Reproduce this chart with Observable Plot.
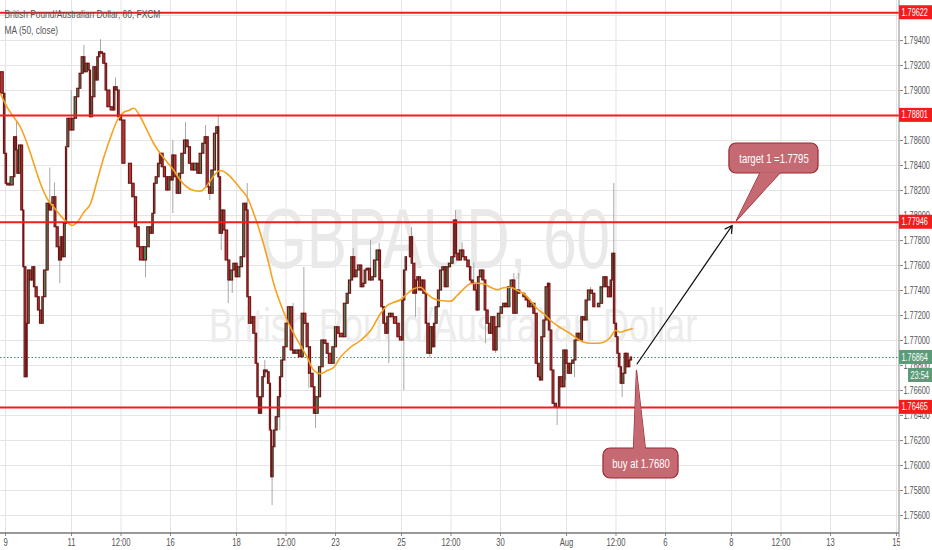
<!DOCTYPE html>
<html><head><meta charset="utf-8">
<script src="https://cdn.jsdelivr.net/npm/d3@7"></script>
<script src="https://cdn.jsdelivr.net/npm/@observablehq/plot@0.6"></script>
<style>
body{margin:0;background:#fff;}
#chart{width:932px;height:550px;overflow:hidden}
</style></head><body><div id="chart"></div>
<script>
// hourly-bar index (0 = 9 Jul 00:00, weekends removed) and closing price
const closeTrace = [[-3.6,1.79146],[-1.2,1.78974],[0,1.78494],[1.2,1.78254],[3.6,1.78240],[6.1,1.78306],[7.3,1.78626],[8.5,1.78520],[9.7,1.78334],[11.4,1.78560],[12.9,1.78040],[13.8,1.77586],[15.3,1.76706],[16.2,1.77134],[17.7,1.77560],[19.4,1.77480],[20.6,1.77586],[21.8,1.77426],[23.5,1.77346],[25,1.77240],[26.7,1.77134],[27.9,1.77346],[29.8,1.77560],[31.5,1.78094],[32.7,1.78040],[34,1.78094],[35.6,1.78146],[37.1,1.77906],[38.8,1.77746],[40,1.77640],[41.2,1.77826],[42.4,1.77666],[43.9,1.77934],[44.9,1.78546],[46.5,1.78774],[48.5,1.78680],[50.2,1.78774],[52.1,1.78946],[53.8,1.79014],[55.3,1.79134],[57,1.79266],[58.2,1.79146],[59.9,1.79214],[61.3,1.79160],[62.3,1.78786],[63.8,1.78946],[65.5,1.79186],[66.7,1.79080],[67.9,1.79266],[69.1,1.79306],[71,1.79294],[72.7,1.79214],[74,1.79000],[76.4,1.78866],[78.8,1.78840],[80,1.79026],[81.7,1.79000],[83.1,1.78786],[84.9,1.78760],[87.3,1.78414],[89.7,1.78414],[92.1,1.78254],[94,1.78146],[95.8,1.77906],[97.7,1.77746],[100.6,1.77640],[103,1.77746],[105,1.77906],[106.7,1.77854],[107.9,1.78014],[109.1,1.78254],[110.8,1.78306],[112.2,1.78414],[113.5,1.78494],[115.1,1.78386],[116.8,1.78306],[118.3,1.78200],[120,1.78306],[121.2,1.78280],[122.4,1.78480],[124.4,1.78306],[126,1.78174],[127.8,1.78334],[129.7,1.78494],[131.4,1.78600],[133.3,1.78546],[135,1.78414],[137,1.78360],[139.4,1.78414],[141.1,1.78334],[143,1.78494],[144.7,1.78574],[146.2,1.78626],[147.9,1.78226],[149.6,1.78174],[151.5,1.78360],[153.2,1.78654],[154.7,1.78706],[155.6,1.78306],[156.9,1.77854],[158.3,1.78040],[160,1.77880],[162,1.77640],[163.6,1.77480],[165.6,1.77560],[167.3,1.77614],[168.9,1.77506],[170.9,1.77586],[172.8,1.77666],[174.5,1.78094],[175.8,1.78040],[176.9,1.77346],[178.7,1.77134],[180.1,1.77186],[181.8,1.77054],[183.1,1.76814],[184.2,1.76546],[185.5,1.76414],[186.7,1.76546],[187.9,1.76706],[189.1,1.76760],[190.8,1.76746],[192.2,1.76654],[193.2,1.76280],[193.9,1.75906],[195.1,1.76146],[196.4,1.76280],[198,1.76386],[199.5,1.76546],[200.5,1.76706],[202,1.76840],[203.6,1.76946],[205.3,1.77134],[207.3,1.77266],[209.2,1.76920],[210.9,1.76894],[213.3,1.76920],[215.3,1.76866],[217,1.77214],[218.9,1.77134],[220.6,1.76946],[222.3,1.76734],[224.2,1.76626],[225.5,1.76414],[227.9,1.76546],[229.6,1.76786],[231.5,1.77000],[233.5,1.76974],[235.1,1.76894],[237.6,1.76814],[239.5,1.76946],[241.2,1.77106],[243.1,1.77054],[246,1.77026],[248,1.77294],[249.7,1.77374],[251.4,1.77480],[252.9,1.77666],[254.5,1.77506],[256.2,1.77560],[258.2,1.77600],[259.6,1.77426],[261.1,1.77454],[262.5,1.77560],[264.2,1.77574],[265.9,1.77480],[267.9,1.77506],[269.8,1.77640],[271.8,1.77720],[273.2,1.77480],[274.7,1.77266],[276.1,1.77134],[277.6,1.77054],[278.8,1.77186],[280.5,1.77214],[282.4,1.77186],[284.9,1.77134],[286.8,1.77026],[288.5,1.77000],[289.7,1.77320],[290.9,1.77560],[292.1,1.77666],[294,1.77666],[295.3,1.77826],[296.5,1.77614],[298.2,1.77374],[299.4,1.77480],[300.6,1.77506],[302.3,1.77400],[303.8,1.77480],[305.5,1.77374],[306.7,1.77134],[308.6,1.76894],[310.3,1.77106],[311.5,1.76946],[312.7,1.77134],[314.4,1.77266],[315.9,1.77400],[317.6,1.77560],[319.3,1.77586],[320.7,1.77426],[322.4,1.77586],[324.1,1.77614],[326,1.77666],[327.3,1.77960],[328.5,1.77694],[330.4,1.77640],[332.1,1.77720],[333.8,1.77666],[335.8,1.77640],[337.7,1.77586],[338.9,1.77480],[340.6,1.77454],[342.5,1.77400],[343.5,1.77240],[344.9,1.77506],[346.7,1.77560],[348.4,1.77480],[349.8,1.77240],[351.5,1.77134],[353.2,1.77054],[354.7,1.77186],[356.4,1.76920],[358,1.77106],[360,1.77214],[361.9,1.77266],[363.6,1.77294],[365.3,1.77266],[367.3,1.77426],[369.2,1.77480],[370.9,1.77214],[372.6,1.77400],[374.5,1.77374],[376.5,1.77374],[378.2,1.77346],[379.9,1.77320],[381.8,1.77266],[383.8,1.77294],[385.5,1.77214],[387.2,1.76814],[388.6,1.76706],[389.6,1.76680],[391.1,1.77026],[392.7,1.77160],[394.4,1.77426],[395.1,1.77454],[396.4,1.77080],[397.8,1.76760],[399.3,1.76494],[401.2,1.76466],[402.4,1.76466],[403.6,1.76706],[405.6,1.76626],[407.3,1.76920],[408.9,1.76814],[410.4,1.76734],[412.1,1.76814],[413.8,1.76840],[415.3,1.77000],[416.9,1.77054],[418.7,1.77000],[420.1,1.77186],[421.8,1.77160],[423.5,1.77320],[425.5,1.77400],[427.4,1.77374],[429.1,1.77266],[430.8,1.77266],[432.7,1.77294],[434.7,1.77426],[436.4,1.77506],[438,1.77426],[440,1.77346],[441.2,1.77480],[442.4,1.77694],[443.6,1.77134],[444.9,1.77026],[446,1.76894],[447.3,1.76786],[448.5,1.76654],[450.2,1.76734],[451.6,1.76894],[453.3,1.76786],[454.5,1.76840],[455.8,1.76864]];

// notable wicks: [bar index, low, high]
const wicks = [[8,1.7852,1.7876],[32.2,1.7804,1.7838],[35.6,1.7815,1.7826],[39.5,1.77456,1.7775],[47.8,1.7868,1.7900],[57,1.7927,1.7936],[69.1,1.7930,1.79406],[80,1.7902,1.7910],[101.8,1.7750,1.7764],[121.7,1.78016,1.7860],[130.9,1.7850,1.78744],[145.5,1.7857,1.7872],[148.6,1.7812,1.7822],[154.7,1.7870,1.7880],[156.9,1.7772,1.7785],[162,1.77296,1.7764],[164.9,1.77376,1.7756],[175.8,1.7804,1.78256],[181.8,1.7700,1.7705],[188.6,1.7670,1.7684],[193.9,1.7568,1.7628],[199.5,1.7628,1.7655],[209.2,1.7689,1.77296],[217,1.7713,1.77584],[220.6,1.76616,1.7695],[225.5,1.76296,1.7655],[252.9,1.7750,1.77736],[265.5,1.7748,1.7780],[271.8,1.7772,1.7778],[278.8,1.76816,1.7719],[289.7,1.7660,1.7732],[295.3,1.7778,1.77904],[298.2,1.77184,1.7737],[308.6,1.76856,1.7689],[327.3,1.7769,1.7804],[332.1,1.7767,1.7778],[340.6,1.7745,1.7762],[349.1,1.76976,1.7724],[356.4,1.76896,1.7692],[369.7,1.7748,1.77536],[373.3,1.7737,1.77536],[401.2,1.7632,1.7647],[407.3,1.7668,1.7692],[413.8,1.76704,1.7684],[425.5,1.7740,1.77424],[442.4,1.7748,1.78256],[448.5,1.76544,1.7666]];

// MA (50, close) line
const maTrace = [[-3.6,1.78974],[1.2,1.78866],[6.1,1.78786],[10.9,1.78706],[15.8,1.78574],[20.6,1.78414],[25.5,1.78254],[30.3,1.78134],[35.1,1.78066],[40,1.78000],[44.8,1.77946],[48.5,1.77920],[52.1,1.77946],[57,1.78026],[61.8,1.78094],[66.7,1.78280],[71.5,1.78466],[76.4,1.78626],[81.2,1.78760],[86,1.78826],[89.7,1.78840],[93.3,1.78858],[98.2,1.78786],[103,1.78680],[107.9,1.78574],[112.7,1.78494],[117.6,1.78426],[122.4,1.78360],[127.3,1.78280],[132.1,1.78226],[137,1.78200],[141.8,1.78194],[145.5,1.78226],[149.1,1.78280],[152.7,1.78334],[156.4,1.78360],[161.2,1.78334],[166,1.78280],[170.9,1.78214],[175.8,1.78146],[180.6,1.78014],[185.5,1.77854],[190.3,1.77666],[195.1,1.77454],[200,1.77294],[204.9,1.77160],[209.7,1.77054],[214.5,1.76960],[219.4,1.76866],[224.2,1.76760],[229.1,1.76734],[233.9,1.76760],[238.8,1.76786],[243.6,1.76866],[250.9,1.76946],[258.2,1.77000],[265.5,1.77080],[272.7,1.77214],[277.6,1.77280],[282.4,1.77306],[287.3,1.77326],[292.1,1.77374],[297,1.77414],[301.8,1.77426],[306.7,1.77374],[311.5,1.77334],[316.4,1.77320],[323.6,1.77314],[328.5,1.77360],[333.3,1.77414],[338.2,1.77454],[343,1.77458],[347.9,1.77454],[352.7,1.77426],[357.6,1.77406],[362.4,1.77422],[367.3,1.77426],[372.1,1.77400],[376.9,1.77374],[381.8,1.77320],[386.7,1.77254],[391.5,1.77214],[396.4,1.77160],[401.2,1.77120],[406,1.77086],[410.9,1.77054],[415.8,1.77014],[420.6,1.76986],[425.5,1.76978],[430.3,1.76978],[435.1,1.76986],[440,1.77026],[443.6,1.77080],[447.3,1.77066],[450.9,1.77080],[455.8,1.77094]];

const levels = [1.79622, 1.78801, 1.77946, 1.76465];
const lastPrice = 1.76864;
const countdown = "23:54";
const tickHours = [0,48,84,120,168,204,240,288,324,360,408,444,480,528,564,600,648];
const tickLabels = ["9","11","12:00","16","18","12:00","23","25","12:00","30","Aug","12:00","6","8","12:00","13","15"];
const priceTicks = [1.756,1.758,1.760,1.762,1.764,1.766,1.768,1.770,1.772,1.774,1.776,1.778,1.780,1.782,1.784,1.786,1.788,1.790,1.792,1.794,1.796];
const xDomain = [-3.64, 650.2];
const yDomain = [1.75456, 1.7972];

// annotations (bar index, price)
const arrowLine = [{h1:459.4, p1:1.76814, h2:528.5, p2:1.7792}];
const targetBox = [{h1:526.5, h2:591.3, p1:1.78336, p2:1.78576, label:"target 1 =1.7795"}];
const targetPointer = [[549,1.78346],[563.6,1.78346],[531.6,1.7796],[549,1.78346]];
const buyBox = [{h1:434.9, h2:489.5, p1:1.75896, p2:1.76136, label:"buy at 1.7680"}];
const buyPointer = [[456.7,1.76126],[465.5,1.76126],[458.9,1.7676],[456.7,1.76126]];

const candles = closeTrace.slice(1).map((d,i)=>({h0:closeTrace[i][0], h1:d[0], o:closeTrace[i][1], c:d[1]}));
const ma = maTrace.map(([h,p])=>({h,p}));
const wk = wicks.map(([h,lo,hi])=>({h,lo,hi}));
const labelOf = new Map(tickHours.map((h,i)=>[h,tickLabels[i]]));
const FONT = "'Liberation Sans',Arial,sans-serif";
const boxFill = "#c56a72", boxStroke = "#9c2a33";

const plot = Plot.plot({
  width: 932, height: 550,
  marginLeft: 0, marginTop: 0, marginRight: 33, marginBottom: 17,
  style: {fontFamily: FONT, fontSize: "10px", color: "#555", background: "#fff"},
  x: {domain: xDomain},
  y: {domain: yDomain},
  marks: [
    Plot.gridX(tickHours, {stroke: "#e4e4e4", strokeOpacity: 1}),
    Plot.gridY(priceTicks, {stroke: "#e4e4e4", strokeOpacity: 1}),
    Plot.text(["GBPAUD, 60"], {frameAnchor: "middle", dx: -15, dy: -27, fontSize: 86, fill: "#e9e9e9"}),
    Plot.text(["British Pound/Australian Dollar"], {frameAnchor: "middle", dx: 3, dy: 60, fontSize: 48, fill: "#ececec"}),
    Plot.ruleY([lastPrice], {stroke: "#3f8c68", strokeDasharray: "1.5,2", strokeWidth: 1}),
    Plot.ruleX(wk, {x: "h", y1: "lo", y2: "hi", stroke: "#a8a8a8", strokeWidth: 1}),
    Plot.rect(candles, {x1: "h0", x2: "h1", y1: "o", y2: "c",
      fill: d => d.c >= d.o ? "#3f8a5c" : "#b2393a", stroke: "#6e1212", strokeWidth: 1.1, insetLeft: 0.1, insetRight: 0.1}),
    Plot.line(ma, {x: "h", y: "p", stroke: "#f5a21c", strokeWidth: 1.6, curve: "monotone-x"}),
    Plot.ruleY(levels, {stroke: "#f21c1c", strokeWidth: 2}),
    Plot.arrow(arrowLine, {x1: "h1", y1: "p1", x2: "h2", y2: "p2", stroke: "#111", strokeWidth: 1.3, headLength: 9, bend: 0}),
    Plot.line(targetPointer, {x: d => d[0], y: d => d[1], fill: boxFill, stroke: boxStroke, strokeWidth: 1.2}),
    Plot.rect(targetBox, {x1: "h1", x2: "h2", y1: "p1", y2: "p2", rx: 7, fill: boxFill, stroke: boxStroke, strokeWidth: 1.2}),
    Plot.line(targetPointer, {x: d => d[0], y: d => d[1], fill: boxFill, stroke: "none"}),
    Plot.text(targetBox, {x: d => (d.h1 + d.h2) / 2, y: d => (d.p1 + d.p2) / 2, text: "label", fill: "white", fontSize: 13}),
    Plot.line(buyPointer, {x: d => d[0], y: d => d[1], fill: boxFill, stroke: boxStroke, strokeWidth: 1.2}),
    Plot.rect(buyBox, {x1: "h1", x2: "h2", y1: "p1", y2: "p2", rx: 7, fill: boxFill, stroke: boxStroke, strokeWidth: 1.2}),
    Plot.line(buyPointer, {x: d => d[0], y: d => d[1], fill: boxFill, stroke: "none"}),
    Plot.text(buyBox, {x: d => (d.h1 + d.h2) / 2, y: d => (d.p1 + d.p2) / 2, text: "label", fill: "white", fontSize: 13}),
    Plot.axisX(tickHours, {anchor: "bottom", tickSize: 3, tickPadding: 2, tickFormat: d => labelOf.get(d), fill: "#555", stroke: "#888", fontSize: 10.5}),
    Plot.axisY(priceTicks, {anchor: "right", tickSize: 3, tickPadding: 1, tickFormat: d3.format(".5f"), fill: "#555", stroke: "#888", fontSize: 10}),
    Plot.text(["British Pound/Australian Dollar, 60, FXCM"], {frameAnchor: "top-left", dx: 4, dy: 14, lineAnchor: "middle", fontSize: 11.5, fill: "#555"}),
    Plot.text(["MA (50, close)"], {frameAnchor: "top-left", dx: 4, dy: 30, lineAnchor: "middle", fontSize: 11.5, fill: "#555"})
  ]
});

const svg = d3.select(plot);
const sx = plot.scale("x"), sy = plot.scale("y");
const xr = sx.range[1], yb = sy.range[0];
// price-scale panel covers anything past the right edge below the plot
svg.append("rect").attr("x", xr + 1).attr("y", yb).attr("width", 932 - xr).attr("height", 550 - yb).attr("fill", "#fff");
// axis lines
svg.append("line").attr("x1", xr).attr("x2", xr).attr("y1", 0).attr("y2", yb + 4).attr("stroke", "#888").attr("stroke-width", 1);
svg.append("line").attr("x1", 0).attr("x2", xr).attr("y1", yb).attr("y2", yb).attr("stroke", "#777").attr("stroke-width", 1.5);
// price label boxes on right scale
function tag(v, text, fill, offset, left) {
  const yy = sy.apply(v) + offset;
  svg.append("rect").attr("x", xr + left).attr("y", yy - 7).attr("width", 932 - xr - left).attr("height", 14).attr("fill", fill);
  svg.append("text").attr("x", xr + left + 2.5).attr("y", yy).attr("dy", "0.35em").attr("fill", "#fff")
    .attr("text-anchor", "start").attr("font-family", FONT).attr("font-size", 10).text(text);
}
levels.forEach(v => tag(v, d3.format(".5f")(v), "#f21c1c", 0, 0));
tag(lastPrice, d3.format(".5f")(lastPrice), "#5a9c78", 0, 0);
tag(lastPrice, countdown, "#5a9c78", 18, 9);
document.getElementById("chart").appendChild(plot);
// the reference type is narrow: squeeze every text horizontally
plot.querySelectorAll("text").forEach(t => {
  const fs = parseFloat(getComputedStyle(t).fontSize);
  const f = fs > 70 ? 0.70 : fs > 30 ? 0.75 : 0.73;
  const L = t.getComputedTextLength();
  if (L > 0) { t.setAttribute("textLength", L * f); t.setAttribute("lengthAdjust", "spacingAndGlyphs"); }
});
</script></body></html>
